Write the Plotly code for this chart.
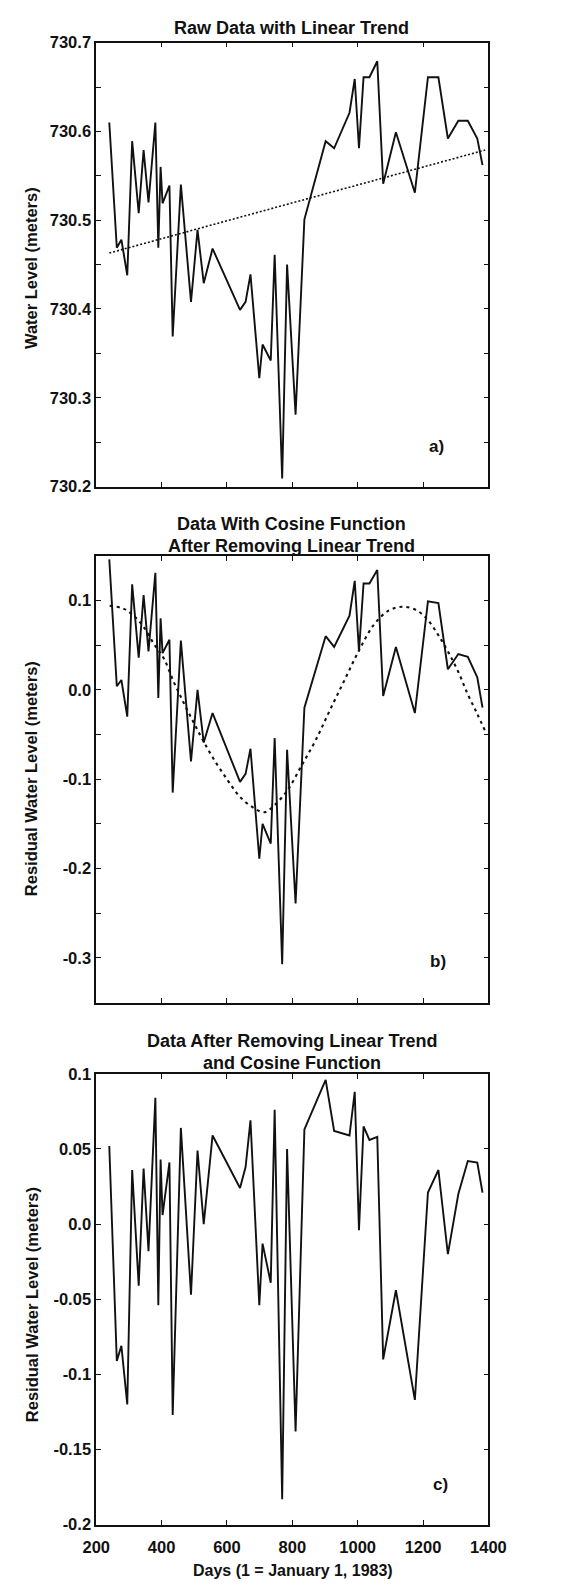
import plotly.graph_objects as go

# ---------------- data ----------------
days = [240, 263, 277, 295, 310, 330, 345, 360, 381, 390, 397, 403, 424, 434, 459,
        490, 510, 529, 556, 640, 657, 672, 699, 709, 734, 746, 769, 784, 810, 837,
        902, 928, 975, 991, 1004, 1018, 1036, 1060, 1078, 1117, 1175, 1215, 1247,
        1276, 1308, 1337, 1366, 1382]

raw_level = [730.610, 730.469, 730.478, 730.438, 730.589, 730.508, 730.579, 730.520,
             730.610, 730.469, 730.560, 730.519, 730.539, 730.369, 730.540, 730.408,
             730.489, 730.429, 730.468, 730.399, 730.408, 730.439, 730.322, 730.360,
             730.342, 730.461, 730.209, 730.450, 730.281, 730.501, 730.589, 730.581,
             730.621, 730.659, 730.581, 730.661, 730.661, 730.679, 730.541, 730.599,
             730.531, 730.661, 730.661, 730.592, 730.612, 730.612, 730.592, 730.562]

trend_days = [240, 1390]
trend_level = [730.463, 730.579]

residual = [0.146, 0.004, 0.011, -0.030, 0.118, 0.036, 0.106, 0.043, 0.131, -0.009,
            0.080, 0.041, 0.056, -0.115, 0.055, -0.080, 0.000, -0.059, -0.026, -0.103,
            -0.094, -0.066, -0.189, -0.150, -0.172, -0.054, -0.307, -0.067, -0.239, -0.020,
            0.060, 0.048, 0.083, 0.122, 0.043, 0.119, 0.119, 0.134, -0.007, 0.048,
            -0.026, 0.099, 0.097, 0.023, 0.040, 0.037, 0.014, -0.020]

cos_days = [241, 282, 308, 342, 377, 407, 437, 463, 493, 523, 557, 600, 638, 677, 714,
            740, 784, 828, 872, 916, 960, 1004, 1048, 1092, 1136, 1180, 1215, 1247,
            1276, 1308, 1337, 1366, 1390]
cos_vals = [0.094, 0.091, 0.085, 0.072, 0.051, 0.035, 0.009, -0.011, -0.033, -0.054,
            -0.076, -0.100, -0.119, -0.131, -0.137, -0.131, -0.113, -0.085, -0.056,
            -0.022, 0.011, 0.044, 0.072, 0.088, 0.093, 0.089, 0.078, 0.061, 0.043,
            0.020, -0.005, -0.027, -0.046]

final_residual = [0.052, -0.091, -0.081, -0.120, 0.036, -0.041, 0.037, -0.018, 0.084, -0.054,
                  0.043, 0.006, 0.041, -0.127, 0.064, -0.047, 0.049, 0.000, 0.059, 0.024,
                  0.038, 0.069, -0.054, -0.013, -0.039, 0.076, -0.183, 0.050, -0.138, 0.063,
                  0.096, 0.062, 0.059, 0.088, -0.004, 0.065, 0.056, 0.058, -0.090, -0.044,
                  -0.117, 0.021, 0.036, -0.020, 0.020, 0.042, 0.041, 0.021]

x_ticks = [200, 400, 600, 800, 1000, 1200, 1400]
x_ticktext = ["200", "400", "600", "800", "1000", "1200", "1400"]
ya_ticks = [730.2, 730.3, 730.4, 730.5, 730.6, 730.7]
ya_text = ["730.2", "730.3", "730.4", "730.5", "730.6", "730.7"]
yb_ticks = [-0.3, -0.2, -0.1, 0.0, 0.1]
yb_text = ["-0.3", "-0.2", "-0.1", "0.0", "0.1"]
yc_ticks = [-0.2, -0.15, -0.1, -0.05, 0.0, 0.05, 0.1]
yc_text = ["-0.2", "-0.15", "-0.1", "-0.05", "0.0", "0.05", "0.1"]

# ---------------- layout geometry ----------------
W, H = 582, 1592
L, R = 87, 502


def py(p):
    return 1 - p / H


FONT = "Liberation Sans, Arial, Helvetica, sans-serif"
BLACK = "#111111"

fig = go.Figure()
solid = dict(color=BLACK, width=1.9)

fig.add_trace(go.Scatter(x=days, y=raw_level, mode="lines", line=solid,
                         xaxis="x", yaxis="y", showlegend=False))
fig.add_trace(go.Scatter(x=trend_days, y=trend_level, mode="lines",
                         line=dict(color=BLACK, width=1.6, dash="2px,2px"),
                         xaxis="x", yaxis="y", showlegend=False))
fig.add_trace(go.Scatter(x=days, y=residual, mode="lines", line=solid,
                         xaxis="x2", yaxis="y2", showlegend=False))
fig.add_trace(go.Scatter(x=cos_days, y=cos_vals, mode="lines",
                         line=dict(color=BLACK, width=2.1, dash="3px,4px", shape="spline"),
                         xaxis="x2", yaxis="y2", showlegend=False))
fig.add_trace(go.Scatter(x=days, y=final_residual, mode="lines", line=solid,
                         xaxis="x3", yaxis="y3", showlegend=False))

axis_common = dict(showline=True, linecolor=BLACK, linewidth=1.7, mirror="ticks",
                   ticks="inside", ticklen=5, tickwidth=1.4, tickcolor=BLACK,
                   showgrid=False, zeroline=False,
                   tickfont=dict(family=FONT, size=16.5, color=BLACK, weight="bold"))

xdom = [L / W, R / W]
panels = [(34, 483), (553, 1005), (1077, 1533)]
yranges = [[730.2, 730.7], [-0.35, 0.15], [-0.2, 0.1]]
yticks = [(ya_ticks, ya_text, 730.2), (yb_ticks, yb_text, -0.35), (yc_ticks, yc_text, -0.2)]

layout = dict(width=W, height=H, margin=dict(l=0, r=0, t=0, b=0),
              paper_bgcolor="white", plot_bgcolor="white", showlegend=False)

for i in range(3):
    sfx = "" if i == 0 else str(i + 1)
    top, bot = panels[i]
    layout["xaxis" + sfx] = dict(axis_common, domain=xdom, range=[200, 1400],
                                 tickmode="array", tickvals=x_ticks, ticktext=x_ticktext,
                                 showticklabels=(i == 2), ticklabelstandoff=7,
                                 anchor="y" + sfx)
    tv, tt, t0 = yticks[i]
    layout["yaxis" + sfx] = dict(axis_common, domain=[py(bot), py(top)], range=yranges[i],
                                 tickmode="array", tickvals=tv, ticktext=tt,
                                 minor=dict(ticks="inside", ticklen=5, tickwidth=1.4,
                                            tickcolor=BLACK, dtick=0.05, tick0=t0),
                                 anchor="x" + sfx)

fig.update_layout(**layout)

ann = []


def text(x, y, s, size, bold=False, angle=0):
    ann.append(dict(x=x / W, y=py(y), xref="paper", yref="paper", text=s,
                    showarrow=False, textangle=angle, xanchor="center", yanchor="middle",
                    font=dict(family=FONT, size=size, color=BLACK,
                              weight="bold" if bold else "normal")))


text(294, 19, "Raw Data with Linear Trend", 18, bold=True)
text(294, 521, "Data With Cosine Function", 18, bold=True)
text(294, 543, "After Removing Linear Trend", 18, bold=True)
text(294, 1044, "Data After Removing Linear Trend", 18, bold=True)
text(294, 1066, "and Cosine Function", 18, bold=True)

text(18, 262, "Water Level (meters)", 16.5, bold=True, angle=-90)
text(18, 779, "Residual Water Level (meters)", 16.5, bold=True, angle=-90)
text(19, 1310, "Residual Water Level (meters)", 16.5, bold=True, angle=-90)

text(295, 1579, "Days (1 = January 1, 1983)", 16, bold=True)

text(447, 442, "a)", 17, bold=True)
text(449, 963, "b)", 17, bold=True)
text(451, 1492, "c)", 17, bold=True)

fig.update_layout(annotations=ann)
fig.write_html("out.html")
